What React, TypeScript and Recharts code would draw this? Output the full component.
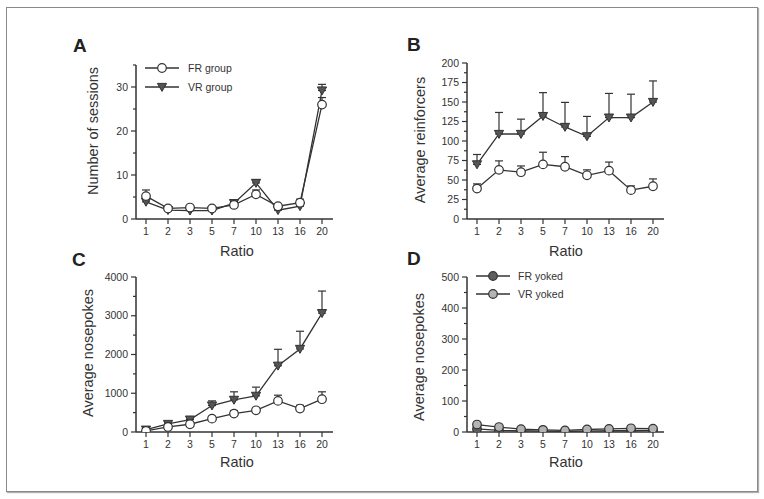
import React from 'react';
import { LineChart, Line, XAxis, YAxis, ErrorBar, Legend, Label } from 'recharts';

const FONT = '"Liberation Sans", Arial, Helvetica, sans-serif';
const INK = '#333333';

// ---------- data ----------
const ratios = ['1', '2', '3', '5', '7', '10', '13', '16', '20'];

const sessionsFR = [5.2, 2.4, 2.6, 2.4, 3.2, 5.6, 2.9, 3.7, 26];
const sessionsFRErr = [1.4, 0.3, 0.3, 0.3, 0.5, 1.0, 0.4, 0.8, 1.6];
const sessionsVR = [3.9, 2.0, 1.9, 1.9, 3.6, 8.2, 2.0, 2.9, 29.2];
const sessionsVRErr = [0.5, 0.3, 0.2, 0.3, 0.6, 0.7, 0.3, 0.5, 1.4];

const reinforcersFR = [39, 63, 60, 70, 67, 56, 62, 37, 42];
const reinforcersFRErr = [6, 11.5, 8, 15.6, 13, 7, 11, 5.4, 9.4];
const reinforcersVR = [70, 109, 109, 132, 118, 106, 130, 130, 150];
const reinforcersVRErr = [12.7, 27.6, 19, 30, 31.5, 25.5, 31, 30, 27];

const nosepokesFR = [30, 130, 200, 345, 475, 560, 803, 605, 847];
const nosepokesFRErr = [10, 20, 30, 60, 80, 60, 147, 85, 190];
const nosepokesVR = [60, 207, 320, 683, 829, 933, 1710, 2143, 3067];
const nosepokesVRErr = [20, 40, 40, 120, 208, 225, 424, 457, 570];

const yokedFR = [10, 5, 4, 3, 2, 3, 4, 4, 5];
const yokedVR = [24, 16, 9, 7, 5, 8, 10, 12, 11];

const ticksA = [0, 5, 10, 15, 20, 25, 30, 35];
const ticksB = [0, 12.5, 25, 37.5, 50, 62.5, 75, 87.5, 100, 112.5, 125, 137.5, 150, 162.5, 175, 187.5, 200];
const ticksC = [0, 500, 1000, 1500, 2000, 2500, 3000, 3500, 4000];
const ticksD = [0, 50, 100, 150, 200, 250, 300, 350, 400, 450, 500];

const legendA = ['FR group', 'VR group'];
const legendD = ['FR yoked', 'VR yoked'];

// ---------- helpers ----------
type Row = { ratio: string; a: number; aErr: number[]; b: number; bErr: number[] };
const buildRows = (a: number[], aErr: number[] | null, b: number[], bErr: number[] | null): Row[] =>
  ratios.map((r, i) => ({
    ratio: r,
    a: a[i],
    aErr: [0, aErr ? aErr[i] : 0],
    b: b[i],
    bErr: [0, bErr ? bErr[i] : 0],
  }));

const dataA = buildRows(sessionsVR, sessionsVRErr, sessionsFR, sessionsFRErr);
const dataB = buildRows(reinforcersVR, reinforcersVRErr, reinforcersFR, reinforcersFRErr);
const dataC = buildRows(nosepokesVR, nosepokesVRErr, nosepokesFR, nosepokesFRErr);
const dataD = buildRows(yokedFR, null, yokedVR, null);

const triPath = (cx: number, cy: number) =>
  `M${cx - 4.6},${cy - 3.6} L${cx + 4.6},${cy - 3.6} L${cx},${cy + 4.4} Z`;

const triangleDot = (p: any) => (
  <path key={`t-${p.index}`} d={triPath(p.cx, p.cy)} fill="#555555" stroke={INK} strokeWidth={1} />
);
const makeCircleDot = (fill: string) => (p: any) => (
  <circle key={`c-${p.index}-${fill}`} cx={p.cx} cy={p.cy} r={4.3} fill={fill} stroke={INK} strokeWidth={1.2} />
);
const openDot = makeCircleDot('#ffffff');
const darkDot = makeCircleDot('#5e5e5e');
const lightDot = makeCircleDot('#b4b4b4');

const makeYTick = (majorStep: number) => (props: any) => {
  const { x, y, payload } = props;
  const v = payload.value as number;
  const major = Math.abs(v / majorStep - Math.round(v / majorStep)) < 1e-6;
  return (
    <g>
      <line x1={x - (major ? 5 : 3)} x2={x} y1={y} y2={y} stroke={INK} strokeWidth={1.2} />
      {major && (
        <text x={x - 8} y={y} dy="0.35em" textAnchor="end" fontSize={10.5} fill={INK}>
          {v}
        </text>
      )}
    </g>
  );
};

const yTitle = (text: string, cx: number, cy: number) => () => (
  <text
    x={cx}
    y={cy}
    transform={`rotate(-90 ${cx} ${cy})`}
    textAnchor="middle"
    dominantBaseline="central"
    fontSize={14.5}
    fill={INK}
  >
    {text}
  </text>
);
const xTitle = (text: string, cx: number, cy: number) => () => (
  <text x={cx} y={cy} textAnchor="middle" dominantBaseline="central" fontSize={14.5} fill={INK}>
    {text}
  </text>
);

const legendContent = (labels: string[], markers: ((cx: number, cy: number) => React.ReactNode)[], rowH: number, gap: number) => () => (
  <div style={{ fontFamily: FONT, fontSize: 10.5, color: INK }}>
    {labels.map((lab, i) => (
      <div key={lab} style={{ display: 'flex', alignItems: 'center', height: rowH }}>
        <svg width={36} height={12} style={{ display: 'block' }}>
          <line x1={0} x2={34} y1={6} y2={6} stroke={INK} strokeWidth={1.3} />
          {markers[i](17, 6)}
        </svg>
        <span style={{ marginLeft: gap, whiteSpace: 'nowrap' }}>{lab}</span>
      </div>
    ))}
  </div>
);

const legendMarkersA = [
  (cx: number, cy: number) => <circle cx={cx} cy={cy} r={4.3} fill="#fff" stroke={INK} strokeWidth={1.2} />,
  (cx: number, cy: number) => <path d={triPath(cx, cy)} fill="#555555" stroke={INK} strokeWidth={1} />,
];
const legendMarkersD = [
  (cx: number, cy: number) => <circle cx={cx} cy={cy} r={4.3} fill="#5e5e5e" stroke={INK} strokeWidth={1.2} />,
  (cx: number, cy: number) => <circle cx={cx} cy={cy} r={4.3} fill="#b4b4b4" stroke={INK} strokeWidth={1.2} />,
];

const W = 330;
const H = 230;

type PanelProps = {
  left: number;
  top: number;
  data: Row[];
  marginTop: number;
  marginBottom: number;
  domain: [number, number];
  ticks: number[];
  majorStep: number;
  yLabel: string;
  yLabelPos: [number, number];
  xLabelPos: [number, number];
  dotA: (p: any) => React.ReactElement;
  dotB: (p: any) => React.ReactElement;
  errors: boolean;
  legend?: React.ReactNode;
};

const Panel = (p: PanelProps) => (
  <div style={{ position: 'absolute', left: p.left, top: p.top, width: W, height: H }}>
    <LineChart
      width={W}
      height={H}
      data={p.data}
      margin={{ top: p.marginTop, right: 37, bottom: p.marginBottom, left: 0 }}
    >
      <XAxis
        dataKey="ratio"
        type="category"
        interval={0}
        height={30}
        padding={{ left: 10, right: 11 }}
        axisLine={{ stroke: INK, strokeWidth: 1.5 }}
        tickLine={{ stroke: INK, strokeWidth: 1.2 }}
        tickSize={5}
        tickMargin={4}
        tick={{ fontSize: 10.5, fill: INK }}
      >
        <Label content={xTitle('Ratio', p.xLabelPos[0], p.xLabelPos[1])} />
      </XAxis>
      <YAxis
        width={96}
        type="number"
        domain={p.domain}
        ticks={p.ticks}
        interval={0}
        allowDataOverflow
        axisLine={{ stroke: INK, strokeWidth: 1.5 }}
        tickLine={false}
        tickSize={0}
        tickMargin={0}
        tick={makeYTick(p.majorStep)}
      >
        <Label content={yTitle(p.yLabel, p.yLabelPos[0], p.yLabelPos[1])} />
      </YAxis>
      {p.legend}
      <Line
        dataKey="a"
        stroke={INK}
        strokeWidth={1.3}
        isAnimationActive={false}
        dot={p.dotA}
        activeDot={false}
      >
        {p.errors && <ErrorBar dataKey="aErr" direction="y" width={4} stroke={INK} strokeWidth={1.2} />}
      </Line>
      <Line
        dataKey="b"
        stroke={INK}
        strokeWidth={1.3}
        isAnimationActive={false}
        dot={p.dotB}
        activeDot={false}
      >
        {p.errors && <ErrorBar dataKey="bErr" direction="y" width={4} stroke={INK} strokeWidth={1.2} />}
      </Line>
    </LineChart>
  </div>
);

const letterStyle = (left: number, top: number): React.CSSProperties => ({
  position: 'absolute',
  left,
  top,
  fontSize: 19,
  fontWeight: 'bold',
  lineHeight: '19px',
  color: '#222',
});

export default function App() {
  return (
    <div
      style={{
        position: 'absolute',
        left: 0,
        top: 0,
        width: 764,
        height: 499,
        background: '#ffffff',
        fontFamily: FONT,
        overflow: 'hidden',
      }}
    >
      <div
        style={{
          position: 'absolute',
          left: 6,
          top: 7,
          width: 750,
          height: 483,
          border: '1px solid #8a8a8a',
          boxShadow: '1px 1px 1px #b0b0b0',
        }}
      />
      <Panel
        left={40}
        top={28}
        data={dataA}
        marginTop={37}
        marginBottom={9}
        domain={[0, 35]}
        ticks={ticksA}
        majorStep={10}
        yLabel="Number of sessions"
        yLabelPos={[53, 103]}
        xLabelPos={[197, 223]}
        dotA={triangleDot}
        dotB={openDot}
        errors
        legend={
          <Legend
            layout="vertical"
            align="center"
            verticalAlign="middle"
            wrapperStyle={{ left: 105, top: 30.5, width: 'auto' }}
            content={legendContent(legendA, legendMarkersA, 19, 7)}
          />
        }
      />
      <Panel
        left={371}
        top={28}
        data={dataB}
        marginTop={35}
        marginBottom={9}
        domain={[0, 200]}
        ticks={ticksB}
        majorStep={25}
        yLabel="Average reinforcers"
        yLabelPos={[49, 112]}
        xLabelPos={[195, 223]}
        dotA={triangleDot}
        dotB={openDot}
        errors
      />
      <Panel
        left={40}
        top={240}
        data={dataC}
        marginTop={37}
        marginBottom={8}
        domain={[0, 4000]}
        ticks={ticksC}
        majorStep={1000}
        yLabel="Average nosepokes"
        yLabelPos={[48, 113]}
        xLabelPos={[197, 222]}
        dotA={triangleDot}
        dotB={openDot}
        errors
      />
      <Panel
        left={371}
        top={240}
        data={dataD}
        marginTop={37}
        marginBottom={8}
        domain={[0, 500]}
        ticks={ticksD}
        majorStep={100}
        yLabel="Average nosepokes"
        yLabelPos={[48, 117]}
        xLabelPos={[195, 222]}
        dotA={darkDot}
        dotB={lightDot}
        errors={false}
        legend={
          <Legend
            layout="vertical"
            align="center"
            verticalAlign="middle"
            wrapperStyle={{ left: 105, top: 27, width: 'auto' }}
            content={legendContent(legendD, legendMarkersD, 18, 6)}
          />
        }
      />
      <div style={letterStyle(73, 36)}>A</div>
      <div style={letterStyle(407, 35)}>B</div>
      <div style={letterStyle(72, 250)}>C</div>
      <div style={letterStyle(407, 249)}>D</div>
    </div>
  );
}
